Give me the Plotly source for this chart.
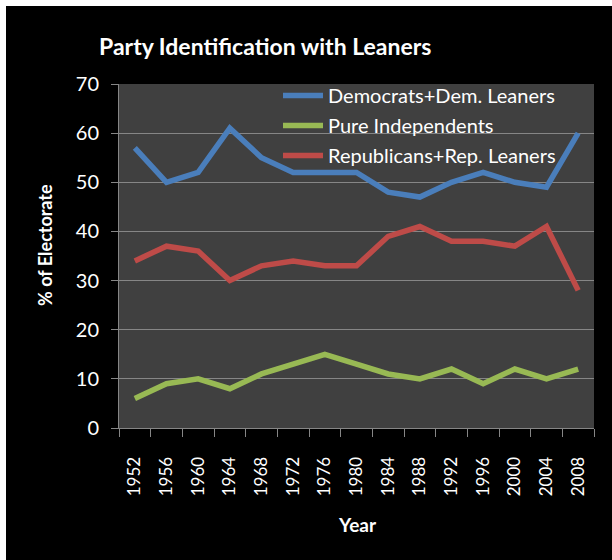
import plotly.graph_objects as go

years = ["1952", "1956", "1960", "1964", "1968", "1972", "1976", "1980",
         "1984", "1988", "1992", "1996", "2000", "2004", "2008"]
dem = [57, 50, 52, 61, 55, 52, 52, 52, 48, 47, 50, 52, 50, 49, 60]
ind = [6, 9, 10, 8, 11, 13, 15, 13, 11, 10, 12, 9, 12, 10, 12]
rep = [34, 37, 36, 30, 33, 34, 33, 33, 39, 41, 38, 38, 37, 41, 28]

names = ["Democrats+Dem. Leaners", "Pure Independents", "Republicans+Rep. Leaners"]
colors = ["#4a7ebb", "#98b954", "#be4b48"]

FONT = "Lato"
fig = go.Figure()
for i, (nm, vals, c) in enumerate(zip(names, [dem, ind, rep], colors)):
    fig.add_trace(go.Scatter(x=years, y=vals, name=nm, mode="lines",
                             line=dict(color=c, width=5.5), legendgroup=str(i)))

L, R, T, B = 119, 18, 84, 132
W, H = 612, 560
pw = W - L - R
ph = H - T - B

def px2x(p):
    return (p - L) / pw

def px2y(p):
    return (H - B - p) / ph

fig.update_layout(
    width=W, height=H,
    margin=dict(l=L, r=R, t=T, b=B),
    paper_bgcolor="black",
    plot_bgcolor="#404040",
    font=dict(family=FONT, color="white", size=18),
    showlegend=True,
    legend=dict(x=px2x(278), y=px2y(76), xanchor="left", yanchor="top",
                bgcolor="rgba(0,0,0,0)", font=dict(size=20, color="white"),
                tracegroupgap=1, itemwidth=40),
    xaxis=dict(type="category", range=[-0.5, 14.5], tickson="boundaries", ticks="outside", ticklen=8,
               tickcolor="#868686", showline=True, linecolor="#868686", linewidth=1,
               showgrid=False, tickangle=-90, tickfont=dict(size=17, color="white"),
               ticklabelstandoff=21, fixedrange=True),
    yaxis=dict(range=[0, 70], dtick=10, ticks="outside", ticklen=7, tickcolor="#868686",
               showline=True, linecolor="#868686", linewidth=1,
               gridcolor="#868686", gridwidth=1, zeroline=False,
               tickfont=dict(size=20, color="white"), ticklabelstandoff=8),
    shapes=[
        dict(type="rect", xref="paper", yref="paper", x0=px2x(-5), x1=px2x(6),
             y0=px2y(H + 5), y1=px2y(-5), fillcolor="white", line=dict(width=0), layer="above"),
        dict(type="rect", xref="paper", yref="paper", x0=px2x(-5), x1=px2x(W + 5),
             y0=px2y(6), y1=px2y(-5), fillcolor="white", line=dict(width=0), layer="above"),
    ],
    annotations=[
        dict(text="<b>Party Identification with Leaners</b>", xref="paper", yref="paper",
             x=px2x(265), y=px2y(46), xanchor="center", yanchor="middle", showarrow=False,
             font=dict(size=23, color="white", family=FONT)),
        dict(text="<b>% of Electorate</b>", xref="paper", yref="paper",
             x=px2x(45), y=px2y(245), xanchor="center", yanchor="middle", showarrow=False,
             textangle=-90, font=dict(size=18, color="white", family=FONT)),
        dict(text="<b>Year</b>", xref="paper", yref="paper",
             x=px2x(357), y=px2y(524), xanchor="center", yanchor="middle", showarrow=False,
             font=dict(size=19, color="white", family=FONT)),
    ],
)

fig.write_html("out.html")
